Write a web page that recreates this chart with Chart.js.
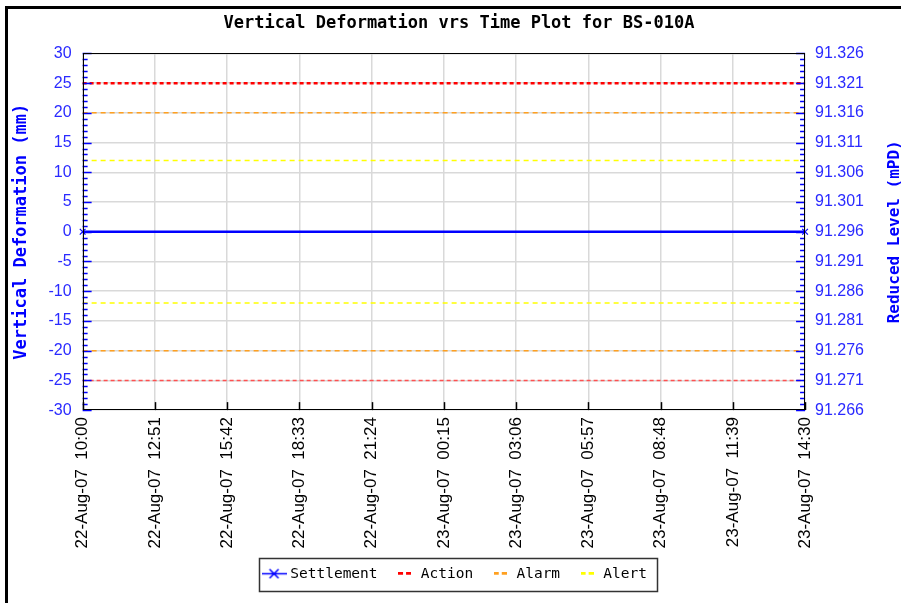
<!DOCTYPE html>
<html>
<head>
<meta charset="utf-8">
<title>Vertical Deformation vrs Time Plot for BS-010A</title>
<script src="https://cdn.jsdelivr.net/npm/chart.js@4.4.0/dist/chart.umd.min.js"></script>
<style>
  html, body { margin: 0; padding: 0; background: #fff; }
  #wrap { position: relative; width: 901px; height: 603px; overflow: hidden; }
  #frame { position: absolute; left: 5px; top: 6px; width: 1000px; height: 1000px;
           border-top: 3px solid #000; border-left: 3px solid #000; pointer-events: none; }
</style>
</head>
<body>
<div id="wrap">
  <canvas id="graph" width="901" height="603"></canvas>
  <div id="frame"></div>
</div>
<script>
// x axis tick labels (one every 2h51m)
const timeLabels = [
  "22-Aug-07  10:00", "22-Aug-07  12:51", "22-Aug-07  15:42", "22-Aug-07  18:33",
  "22-Aug-07  21:24", "23-Aug-07  00:15", "23-Aug-07  03:06", "23-Aug-07  05:57",
  "23-Aug-07  08:48", "23-Aug-07  11:39", "23-Aug-07  14:30"
];

// settlement readings (mm) - only first and last reading
const settlement = [0, null, null, null, null, null, null, null, null, null, 0];

// trigger levels (mm)
const actionUpper = [25, 25, 25, 25, 25, 25, 25, 25, 25, 25, 25];
const actionLower = [-25, -25, -25, -25, -25, -25, -25, -25, -25, -25, -25];
const alarmUpper = [20, 20, 20, 20, 20, 20, 20, 20, 20, 20, 20];
const alarmLower = [-20, -20, -20, -20, -20, -20, -20, -20, -20, -20, -20];
const alertUpper = [12, 12, 12, 12, 12, 12, 12, 12, 12, 12, 12];
const alertLower = [-12, -12, -12, -12, -12, -12, -12, -12, -12, -12, -12];

// axis ranges
const deformRange = [-30, 30, 5];            // min, max, step (mm)
const levelRange = [91.266, 91.326, 0.005];  // min, max, step (mPD)

const BLUE = "#0000ff";
const TICK_BLUE = "#2a2aff";

function makeIcon(kind, color) {
  const c = document.createElement("canvas");
  const g = c.getContext("2d");
  if (kind === "cross") {
    c.width = 25; c.height = 11;
    g.strokeStyle = color;
    g.lineWidth = 1.5;
    g.beginPath();
    g.moveTo(0, 5.5); g.lineTo(25, 5.5);
    g.moveTo(8, 1); g.lineTo(17, 10);
    g.moveTo(17, 1); g.lineTo(8, 10);
    g.stroke();
  } else {
    c.width = 13; c.height = 4;
    g.fillStyle = color;
    g.fillRect(0, 0, 5, 3);
    g.fillRect(8, 0, 5, 3);
  }
  return c;
}

const legendIcons = [
  makeIcon("cross", BLUE),
  makeIcon("dash", "#ff0000"),
  makeIcon("dash", "#ffa020"),
  makeIcon("dash", "#ffff00")
];

// chart.js reserves 2x tick padding, we only want it once
function trimWidth(scale) { scale.width -= scale.options.ticks.padding; }
function trimHeight(scale) { scale.height -= scale.options.ticks.padding; }

const extras = {
  id: "extras",
  afterLayout(chart) {
    // centre title and legend like the original picture
    const t = chart.titleBlock, l = chart.legend;
    const dt = 459 - (t.left + t.right) / 2;
    t.left += dt; t.right += dt;
    const dl = 456 - (l.left + l.right) / 2;
    l.left += dl; l.right += dl;
  },
  afterDraw(chart) {
    const { ctx, chartArea: a } = chart;
    const yL = chart.scales.y, yR = chart.scales.y1, x = chart.scales.x;
    ctx.save();

    // minor/major ticks inside the plot, left side
    ctx.strokeStyle = BLUE;
    ctx.lineWidth = 1.5;
    for (let v = yL.min; v <= yL.max; v++) {
      const py = Math.round(yL.getPixelForValue(v)) + 0.5;
      const len = v % 5 === 0 ? 9 : 5;
      ctx.beginPath(); ctx.moveTo(a.left, py); ctx.lineTo(a.left + len, py); ctx.stroke();
    }
    // right side
    const n = Math.round((yR.max - yR.min) / 0.001);
    for (let i = 0; i <= n; i++) {
      const py = Math.round(yR.getPixelForValue(yR.min + i * 0.001)) + 0.5;
      const len = i % 5 === 0 ? 9 : 5;
      ctx.beginPath(); ctx.moveTo(a.right, py); ctx.lineTo(a.right - len, py); ctx.stroke();
    }
    // bottom ticks
    ctx.strokeStyle = "#000";
    ctx.lineWidth = 1.5;
    x.ticks.forEach((t, i) => {
      const px = Math.round(x.getPixelForTick(i)) + 0.5;
      ctx.beginPath(); ctx.moveTo(px, a.bottom); ctx.lineTo(px, a.bottom - 8); ctx.stroke();
    });
    // plot frame
    ctx.lineWidth = 1;
    ctx.strokeRect(Math.round(a.left) + 0.5, Math.round(a.top) + 0.5,
                   Math.round(a.width) - 1, Math.round(a.height) - 1);

    // right axis title, reading bottom to top
    ctx.save();
    ctx.translate(yR.right + 31, (a.top + a.bottom) / 2);
    ctx.rotate(-Math.PI / 2);
    ctx.font = 'bold 16px "DejaVu Sans Mono"';
    ctx.fillStyle = BLUE;
    ctx.textAlign = "center";
    ctx.textBaseline = "middle";
    ctx.fillText("Reduced Level (mPD)", 0, 0);
    ctx.restore();

    // legend box
    const hb = chart.legend.legendHitBoxes;
    if (hb && hb.length) {
      const first = hb[0], last = hb[hb.length - 1];
      const bx = Math.round(first.left - 6) + 0.5;
      const by = Math.round(first.top - 9) + 0.5;
      const bw = Math.round(last.left + last.width + 10 - first.left + 6);
      const bh = Math.round(first.height + 18);
      ctx.strokeStyle = "#333";
      ctx.lineWidth = 1.5;
      ctx.strokeRect(bx, by, bw, bh);
    }
    ctx.restore();
  }
};

const ctx = document.getElementById("graph").getContext("2d");
const chart = new Chart(ctx, {
  type: "line",
  data: {
    labels: timeLabels,
    datasets: [
      { label: "Settlement", data: settlement, borderColor: BLUE, borderWidth: 2.5,
        pointStyle: "crossRot", pointRadius: 4, pointBorderWidth: 1.2, pointBorderColor: BLUE,
        spanGaps: true, yAxisID: "y" },
      { label: "Action", data: actionUpper, borderColor: "#ff0000", borderWidth: 2.5,
        borderDash: [4, 3], pointRadius: 0, yAxisID: "y" },
      { label: "Alarm", data: alarmUpper, borderColor: "#ffa020", borderWidth: 1.5,
        borderDash: [5, 4], pointRadius: 0, yAxisID: "y" },
      { label: "Alert", data: alertUpper, borderColor: "#ffff00", borderWidth: 1.5,
        borderDash: [5, 4], pointRadius: 0, yAxisID: "y" },
      { label: "Action lower", data: actionLower, borderColor: "#ff5050", borderWidth: 1.5,
        borderDash: [4, 3], pointRadius: 0, yAxisID: "y" },
      { label: "Alarm lower", data: alarmLower, borderColor: "#ffa020", borderWidth: 1.5,
        borderDash: [5, 4], pointRadius: 0, yAxisID: "y" },
      { label: "Alert lower", data: alertLower, borderColor: "#ffff00", borderWidth: 1.5,
        borderDash: [5, 4], pointRadius: 0, yAxisID: "y" }
    ]
  },
  options: {
    responsive: false,
    animation: false,
    layout: { padding: { left: 8, right: 37, top: 0, bottom: 12 } },
    plugins: {
      tooltip: { enabled: false },
      title: {
        display: true,
        text: "Vertical Deformation vrs Time Plot for BS-010A",
        color: "#000",
        font: { family: "DejaVu Sans Mono", size: 17, weight: "bold" },
        padding: { top: 13, bottom: 20 }
      },
      legend: {
        position: "bottom",
        labels: {
          usePointStyle: true,
          pointStyleWidth: 18,
          padding: 18,
          color: "#000",
          font: { family: "DejaVu Sans Mono", size: 14.5 },
          generateLabels: (c) => c.data.datasets.slice(0, 4).map((ds, i) => ({
            text: ds.label, pointStyle: legendIcons[i], datasetIndex: i,
            hidden: false, lineWidth: 0, strokeStyle: "transparent", fillStyle: "transparent"
          }))
        }
      }
    },
    scales: {
      x: {
        type: "category",
        afterFit: trimHeight,
        grid: { color: "#d9d9d9", lineWidth: 1.5, drawTicks: false },
        border: { display: false },
        ticks: {
          autoSkip: false, minRotation: 90, maxRotation: 90, padding: 7,
          color: "#000", font: { family: "Liberation Sans", size: 17 }
        }
      },
      y: {
        position: "left",
        min: deformRange[0], max: deformRange[1],
        afterFit: trimWidth,
        grid: { color: "#d9d9d9", lineWidth: 1.5, drawTicks: false },
        border: { display: false },
        ticks: { stepSize: deformRange[2], padding: 11, color: TICK_BLUE,
                 font: { family: "Liberation Sans", size: 16 } },
        title: {
          display: true, text: "Vertical Deformation (mm)", color: BLUE,
          font: { family: "DejaVu Sans Mono", size: 17, weight: "bold", lineHeight: 1 },
          padding: { top: 5.5, bottom: 18 }
        }
      },
      y1: {
        position: "right",
        display: true,
        min: levelRange[0], max: levelRange[1],
        afterFit: trimWidth,
        grid: { display: false, drawTicks: false },
        border: { display: false },
        ticks: { stepSize: levelRange[2], padding: 10, color: TICK_BLUE,
                 font: { family: "Liberation Sans", size: 16 },
                 callback: (v) => Number(v).toFixed(3) }
      }
    }
  },
  plugins: [extras]
});
</script>
</body>
</html>
